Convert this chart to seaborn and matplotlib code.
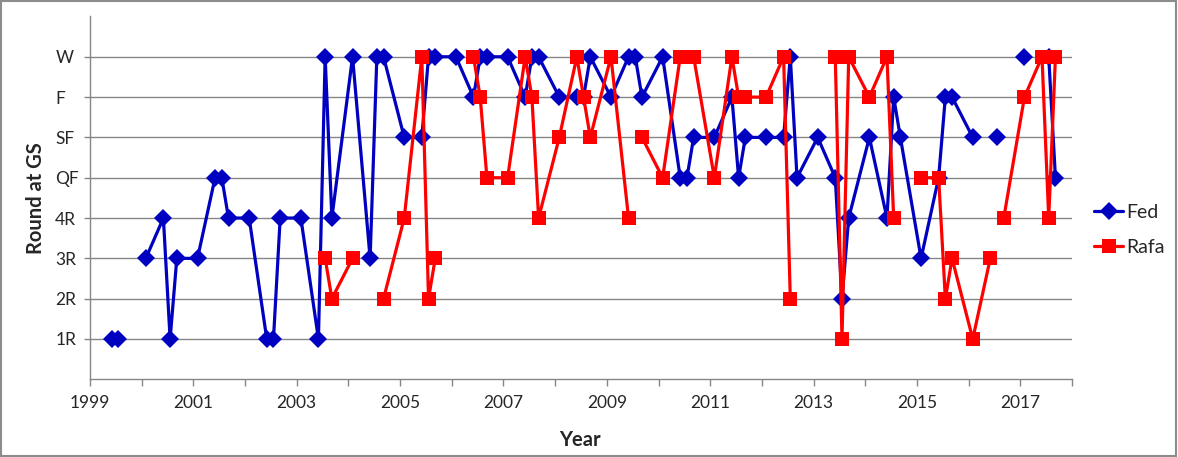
import pandas as pd
import numpy as np
import matplotlib
matplotlib.use("Agg")
import matplotlib.pyplot as plt
import seaborn as sns
from matplotlib.lines import Line2D
from matplotlib.patches import Rectangle

# round names, bottom to top of the y axis
rounds = ["1R", "2R", "3R", "4R", "QF", "SF", "F", "W"]

# slam dates as decimal years (AO, RG, Wimbledon, US Open) 1999-2017
slam_dates = [
    1999.08, 1999.42, 1999.55, 1999.68,
    2000.08, 2000.42, 2000.55, 2000.68,
    2001.08, 2001.42, 2001.55, 2001.68,
    2002.08, 2002.42, 2002.55, 2002.68,
    2003.08, 2003.42, 2003.55, 2003.68,
    2004.08, 2004.42, 2004.55, 2004.68,
    2005.08, 2005.42, 2005.55, 2005.68,
    2006.08, 2006.42, 2006.55, 2006.68,
    2007.08, 2007.42, 2007.55, 2007.68,
    2008.08, 2008.42, 2008.55, 2008.68,
    2009.08, 2009.42, 2009.55, 2009.68,
    2010.08, 2010.42, 2010.55, 2010.68,
    2011.08, 2011.42, 2011.55, 2011.68,
    2012.08, 2012.42, 2012.55, 2012.68,
    2013.08, 2013.42, 2013.55, 2013.68,
    2014.08, 2014.42, 2014.55, 2014.68,
    2015.08, 2015.42, 2015.55, 2015.68,
    2016.08, 2016.42, 2016.55, 2016.68,
    2017.08, 2017.42, 2017.55, 2017.68,
]

fed = [
    None, "1R", "1R", None,
    "3R", "4R", "1R", "3R",
    "3R", "QF", "QF", "4R",
    "4R", "1R", "1R", "4R",
    "4R", "1R", "W", "4R",
    "W", "3R", "W", "W",
    "SF", "SF", "W", "W",
    "W", "F", "W", "W",
    "W", "F", "W", "W",
    "F", "F", "F", "W",
    "F", "W", "W", "F",
    "W", "QF", "QF", "SF",
    "SF", "F", "QF", "SF",
    "SF", "SF", "W", "QF",
    "SF", "QF", "2R", "4R",
    "SF", "4R", "F", "SF",
    "3R", "QF", "F", "F",
    "SF", None, "SF", None,
    "W", None, "W", "QF",
]

rafa = [
    None, None, None, None,
    None, None, None, None,
    None, None, None, None,
    None, None, None, None,
    None, None, "3R", "2R",
    "3R", None, None, "2R",
    "4R", "W", "2R", "3R",
    None, "W", "F", "QF",
    "QF", "W", "F", "4R",
    "SF", "W", "F", "SF",
    "W", "4R", None, "SF",
    "QF", "W", "W", "W",
    "QF", "W", "F", "F",
    "F", "W", "2R", None,
    None, "W", "1R", "W",
    "F", "W", "4R", None,
    "QF", "QF", "2R", "3R",
    "1R", "3R", None, "4R",
    "F", "W", "4R", "W",
]

level = {r: i + 1 for i, r in enumerate(rounds)}

frames = []
for name, res in [("Fed", fed), ("Rafa", rafa)]:
    d = pd.DataFrame({"date": slam_dates, "round": res})
    d["player"] = name
    # missed slams break the line, so give each run its own unit
    d["seg"] = name + d["round"].isna().cumsum().astype(str)
    frames.append(d.dropna(subset=["round"]))
df = pd.concat(frames, ignore_index=True)
df["level"] = df["round"].map(level)

sns.set_theme(style="white")
plt.rcParams["font.family"] = ["Lato", "DejaVu Sans"]

colors = {"Fed": "#0000C0", "Rafa": "#FF0000"}

fig = plt.figure(figsize=(11.78, 4.57), dpi=100)
ax = fig.add_axes([0.0764, 0.170, 0.8336, 0.794])

sns.lineplot(data=df, x="date", y="level", hue="player", style="player",
             units="seg", estimator=None, sort=False,
             markers={"Fed": "D", "Rafa": "s"}, dashes=False,
             palette=colors, linewidth=2.3, markersize=9.5,
             markeredgewidth=0, legend=False, ax=ax)

ax.set_xlim(1999, 2018)
ax.set_ylim(0, 9)
years = list(range(1999, 2019))
ax.set_xticks(years)
ax.set_xticklabels([str(y) if (y % 2 == 1 and y < 2018) else "" for y in years], fontsize=12.5)
ax.set_yticks(range(1, 9))
ax.set_yticklabels(rounds, fontsize=12.5, ha="left")
ax.tick_params(axis="y", length=4, width=1, color="#868686", pad=21, left=True)
ax.tick_params(axis="x", length=5, width=1, color="#868686", pad=6, bottom=True)

ax.yaxis.grid(True, color="#868686", linewidth=1)
ax.set_axisbelow(True)
for s in ["top", "right"]:
    ax.spines[s].set_visible(False)
for s in ["left", "bottom"]:
    ax.spines[s].set_color("#868686")
    ax.spines[s].set_linewidth(1)

ax.set_xlabel("Year", fontsize=14.5, fontweight="bold")
ax.set_ylabel("Round at GS", fontsize=14.5, fontweight="bold")
ax.xaxis.set_label_coords(0.499, -0.14)
ax.yaxis.set_label_coords(-0.045, 0.5)

handles = [
    Line2D([], [], color=colors["Fed"], marker="D", lw=2.3, ms=9.5, mew=0),
    Line2D([], [], color=colors["Rafa"], marker="s", lw=2.3, ms=9.5, mew=0),
]
fig.legend(handles, ["Fed", "Rafa"], loc="center left",
           bbox_to_anchor=(0.914, 0.497), frameon=False, fontsize=14,
           handlelength=1.5, handletextpad=0.15, labelspacing=0.95)

fig.patches.append(Rectangle((0.001, 0.002), 0.997, 0.996, transform=fig.transFigure,
                             fill=False, edgecolor="#8c8c8c", linewidth=1.5))

fig.savefig("out.png", dpi=100)
